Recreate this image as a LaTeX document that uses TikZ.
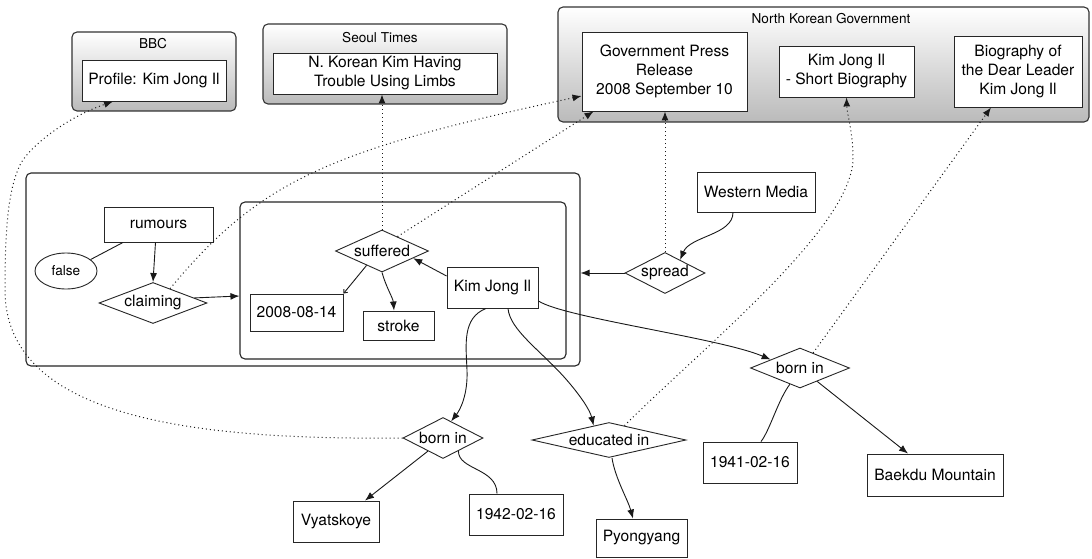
\documentclass[tikz,border=0pt]{standalone}
\usepackage{fontspec}
\setmainfont{TeX Gyre Heros}
\usetikzlibrary{shapes.geometric,arrows.meta,calc}
\begin{document}
\begin{tikzpicture}[x=1pt,y=-1pt,
  every node/.style={font=\fontsize{15.6}{19}\selectfont, align=center, inner sep=0pt},
  grp/.style={rectangle, rounded corners=5pt, draw=black!80, line width=1.1pt, top color=white, bottom color=black!27},
  cont/.style={rectangle, rounded corners=5pt, draw=black!85, line width=1.1pt, fill=white},
  ttl/.style={font=\fontsize{13.6}{16}\selectfont},
  rbox/.style={rectangle, draw=black!85, fill=white, line width=0.9pt},
  dia/.style={diamond, draw=black!85, fill=white, line width=0.9pt},
  oval/.style={ellipse, draw=black!85, fill=white, line width=0.9pt, font=\fontsize{13.6}{16}\selectfont},
  ln/.style={draw=black!90, line width=0.9pt},
  arr/.style={ln, -{Latex[length=9pt,width=7pt]}},
  arrsmall/.style={ln, -{Straight Barb[length=3pt,width=5pt]}},
  dots/.style={draw=black!90, line width=1pt, dash pattern=on 1pt off 3pt, -{Latex[length=9pt,width=7pt]}}
]
\useasboundingbox (0,0) rectangle (1092,559);

% source groups
\node[grp, minimum width=164pt, minimum height=79pt] (bbcG) at (154,71.5) {};
\node[ttl] (bbcT) at (153,44) {BBC};
\node[rbox, minimum width=144pt, minimum height=41pt] (profile) at (154,80.5) {Profile: Kim Jong Il};

\node[grp, minimum width=244pt, minimum height=80pt] (seoulG) at (385,64) {};
\node[ttl] (seoulT) at (380,38) {Seoul Times};
\node[rbox, minimum width=224pt, minimum height=41pt] (seoul) at (385,73.5) {N. Korean Kim Having\\Trouble Using Limbs};

\node[grp, minimum width=531pt, minimum height=115pt] (nkG) at (823.5,64.5) {};
\node[ttl] (nkT) at (831,19) {North Korean Government};
\node[rbox, minimum width=165pt, minimum height=79pt] (press) at (664.5,71.5) {Government Press\\Release\\2008 September 10};
\node[rbox, minimum width=135pt, minimum height=51pt] (shortbio) at (846.5,71.5) {Kim Jong Il\\- Short Biography};
\node[rbox, minimum width=128pt, minimum height=71pt] (dear) at (1018,71.5) {Biography of\\the Dear Leader\\Kim Jong Il};

% containers
\node[cont, minimum width=554pt, minimum height=193pt] (outer) at (303,269.5) {};
\node[cont, minimum width=326pt, minimum height=157pt] (inner) at (403,280.5) {};

% nodes
\node[rbox, minimum width=109pt, minimum height=35pt] (rumours) at (158.5,224.5) {rumours};
\node[oval, minimum width=62pt, minimum height=36pt] (false) at (66,271) {false};
\node[dia, minimum width=108pt, minimum height=41pt, shape aspect=2.63] (claiming) at (153,303) {claiming};
\node[dia, minimum width=93pt, minimum height=42pt, shape aspect=2.2] (suffered) at (382,251) {suffered};
\node[rbox, minimum width=93pt, minimum height=37pt] (d2008) at (296.5,312.5) {2008-08-14};
\node[rbox, minimum width=71pt, minimum height=29pt] (stroke) at (398.5,325.5) {stroke};
\node[rbox, minimum width=91pt, minimum height=41pt] (kim) at (492.5,287.5) {Kim Jong Il};
\node[rbox, minimum width=118pt, minimum height=40pt] (western) at (756,192) {Western Media};
\node[dia, minimum width=80pt, minimum height=41pt, shape aspect=1.95] (spread) at (665,273) {spread};
\node[dia, minimum width=80pt, minimum height=41pt, shape aspect=1.95] (bornL) at (443,438) {born in};
\node[dia, minimum width=154pt, minimum height=35pt, shape aspect=4.4] (educated) at (609,440) {educated in};
\node[dia, minimum width=99pt, minimum height=40pt, shape aspect=2.475] (bornR) at (800,368) {born in};
\node[rbox, minimum width=86pt, minimum height=41pt] (vyat) at (336,521.5) {Vyatskoye};
\node[rbox, minimum width=94pt, minimum height=41pt] (d1942) at (516,514.5) {1942-02-16};
\node[rbox, minimum width=91pt, minimum height=38pt] (pyong) at (641.5,538) {Pyongyang};
\node[rbox, minimum width=94pt, minimum height=41pt] (d1941) at (750,462.5) {1941-02-16};
\node[rbox, minimum width=136pt, minimum height=42pt] (baekdu) at (935,475) {Baekdu Mountain};

% solid connectors
\draw[arr] ([xshift=-3pt]rumours.south) -- (claiming.north);
\draw[ln] ([xshift=-35.5pt]rumours.south) -- (false.25);
\draw[arr] (claiming.7) -- ([yshift=-15.5pt]inner.west);
\draw[arr] ([yshift=11.5pt]kim.west) -- (suffered.-13);
\draw[arrsmall] (suffered.-137) -- (d2008.north east);
\draw[arr] (suffered.south) .. controls (386,287) and (393,298) .. ([xshift=-4.5pt]stroke.north);
\draw[arr] ([xshift=-6.5pt]kim.south) .. controls (462,318) and (466,345) .. (467,370) .. controls (468,395) and (460,410) .. (bornL.64);
\draw[arr] ([xshift=15.5pt]kim.south) .. controls (510,330) and (540,350) .. (565,378) .. controls (580,395) and (590,410) .. (educated.137);
\draw[arr] ([yshift=-13.5pt]kim.east) .. controls (565,318) and (720,338) .. (bornR.164);
\draw[arr] ([xshift=-23pt]western.south) .. controls (733,235) and (690,236) .. (spread.41);
\draw[arr] (spread.west) -- (spread.west -| outer.east);
\draw[arr] (bornL.-139) -- ([xshift=29pt]vyat.north);
\draw[ln] (bornL.-40) .. controls (458,470) and (497,468) .. ([xshift=-19pt]d1942.north);
\draw[arr] ([xshift=3pt]educated.south) .. controls (615,478) and (628,500) .. ([xshift=-8.5pt]pyong.north);
\draw[ln] (bornR.-122) .. controls (778,400) and (770,430) .. ([xshift=11pt]d1941.north);
\draw[arr] (bornR.-38) -- ([xshift=-27pt]baekdu.north);

% dotted source links
\draw[dots] (suffered.north) -- (suffered.north |- seoul.south);
\draw[dots] (suffered.43) -- ([xshift=12pt]press.south west);
\draw[dots] (claiming.40) .. controls (260,180) and (330,150) .. ([yshift=-24.5pt]press.west);
\draw[dots] (spread.north) -- (spread.north |- press.south);
\draw[dots] (educated.43) .. controls (700,350) and (850,230) .. (853,160) .. controls (853,130) and (847,115) .. (shortbio.south);
\draw[dots] (bornR.49) -- ([xshift=-27pt]dear.south);
\draw[dots] (bornL.west) .. controls (200,440) and (5,420) .. (5,290) .. controls (5,230) and (8,190) .. (20,165) .. controls (28,148) and (65,118) .. ([xshift=-41pt]profile.south);
\end{tikzpicture}
\end{document}
